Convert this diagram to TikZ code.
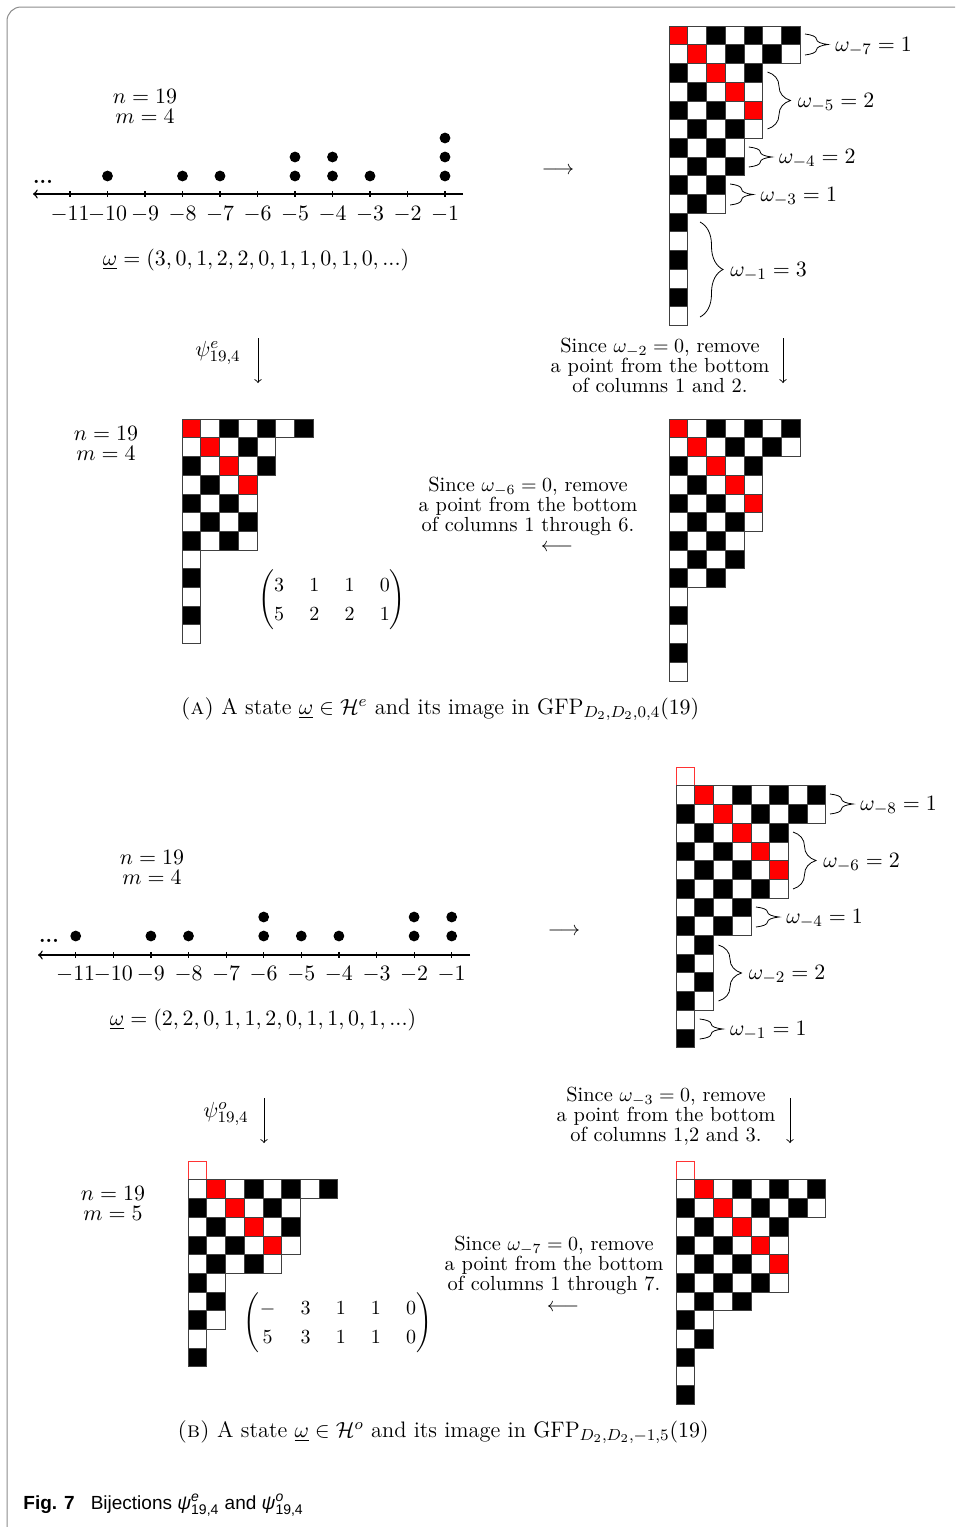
\documentclass[tikz,border=0pt]{standalone}
\usepackage{amsmath}
\usepackage{fontspec}
\newfontfamily\capfont{Liberation Sans}
\usetikzlibrary{decorations.pathreplacing,positioning}
\definecolor{framegray}{HTML}{8C8C8C}
\definecolor{tilered}{HTML}{FF0000}

\def\cellsz{18.7}
% one checker staircase: origin, first row index, row lengths, last red diagonal row
\newcommand\checkgrid[4]{%
  \begin{scope}[shift={#1}]
    \foreach \len [count=\r from #2] in {#3} {
      \foreach \c in {1,...,\len} {
        \pgfmathtruncatemacro\cc{\c-1}
        \pgfmathtruncatemacro\tk{(\r==\cc && \r<=#4) ? 2 : mod(\r+\cc,2)}
        \edef\tc{\ifcase\tk black\or white\else tilered\fi}
        \filldraw[cellc, fill=\tc] (\cc*\cellsz,\r*\cellsz) rectangle ++(\cellsz,\cellsz);
      }
    }
  \end{scope}}
\newcommand\emptybox[1]{%
  \draw[tilered!80, line width=0.5pt, shift={#1}] (0,0) rectangle (\cellsz,\cellsz);}
\newcommand\cappsi[1]{\textit{ψ}$^{\mbox{\capfont\itshape\fontsize{7}{8}\selectfont #1}}_{\mbox{\capfont\fontsize{7}{8}\selectfont 19,4}}$}

\begin{document}
\begin{tikzpicture}[
  x=0.5pt, y=-0.5pt,
  txt/.style={font=\fontsize{10.2}{10}\selectfont, align=center, inner sep=0pt},
  bigtxt/.style={font=\fontsize{11.3}{10}\selectfont, align=center, inner sep=0pt},
  captxt/.style={font=\fontsize{11.2}{12}\selectfont, inner sep=0pt},
  mtx/.style={font=\fontsize{10.2}{12}\selectfont, inner sep=0pt},
  cellc/.style={draw=black!75, line width=0.3pt},
  axis/.style={->, line width=0.7pt},
  tick/.style={line width=0.6pt},
  arr/.style={->, line width=0.45pt},
  brc/.style={decorate, decoration={brace, amplitude=11.5pt}, line width=0.4pt},
  blbl/.style={font=\fontsize{10.9}{10}\selectfont, inner sep=1pt, midway, right=14pt, yshift=-1pt},
]
\useasboundingbox (0,0) rectangle (955,1527);
\draw[framegray, line width=0.5pt, rounded corners=7pt] (955,7) -- (7,7) -- (7,1527);

% ---------- part (a) ----------
\node[bigtxt] (nmA) at (145,106) {$n=19$\\$m=4$};
\coordinate (axA0) at (463,194);
\coordinate (axA1) at (33,194);
\draw[axis] (axA0) -- (axA1);
\node[txt, anchor=base] (dotsA) at (43,183) {\textbf{...}};
\foreach \cnt [count=\k] in {3,0,1,2,2,0,1,1,0,1,0} {
  \pgfmathsetmacro\xx{445-(\k-1)*37.5}
  \draw[tick] (\xx,191) -- (\xx,197);
  \node[bigtxt] (ta\k) at (\xx,214) {$-\k$};
  \ifnum\cnt>0 \foreach \d in {1,...,\cnt} {\fill (\xx,195-19*\d) circle[radius=2.7pt];}\fi
}
\node[bigtxt] (omA) at (256,260) {$\underline{\omega}=(3,0,1,2,2,0,1,1,0,1,0,...)$};
\node[txt] (toA) at (558,171) {$\longrightarrow$};

\checkgrid{(669,26)}{0}{7,7,5,5,5,5,4,4,3,3,1,1,1,1,1,1}{4}
\draw[brc] (805,34) -- (805,55) node[blbl] {$\omega_{-7}=1$};
\draw[brc] (767.5,72) -- (767.5,129) node[blbl] {$\omega_{-5}=2$};
\draw[brc] (748.8,147) -- (748.8,167) node[blbl] {$\omega_{-4}=2$};
\draw[brc] (730.1,184) -- (730.1,205) node[blbl] {$\omega_{-3}=1$};
\draw[brc] (700,222) -- (700,317) node[blbl] {$\omega_{-1}=3$};

\node[bigtxt] (psiE) at (218,353) {$\psi^e_{19,4}$};
\coordinate (psiE0) at (258,338);
\coordinate (psiE1) at (258,383);
\draw[arr] (psiE0) -- (psiE1);
\node[txt] (stepA) at (660,365) {Since $\omega_{-2}=0$, remove\\a point from the bottom\\of columns 1 and 2.};
\coordinate (stepA0) at (783,338);
\coordinate (stepA1) at (783,383);
\draw[arr] (stepA0) -- (stepA1);

\node[bigtxt] (nmB) at (106,443) {$n=19$\\$m=4$};
\checkgrid{(182,419)}{0}{7,5,5,4,4,4,4,1,1,1,1,1}{3}
\node[mtx] (matA) at (332,600) {\arraycolsep=6.3pt\renewcommand\arraystretch{1.2}$\begin{pmatrix}3&1&1&0\\5&2&2&1\end{pmatrix}$};
\node[txt] (stepB) at (528,506) {Since $\omega_{-6}=0$, remove\\a point from the bottom\\of columns 1 through 6.};
\node[txt] (backA) at (557,548) {$\longleftarrow$};
\checkgrid{(669,419)}{0}{7,7,5,5,5,5,4,4,3,1,1,1,1,1}{4}

\node[captxt] (capA) at (440,709) {\textsc{(a)}\ A state $\underline{\omega}\in\mathcal{H}^e$ and its image in $\mathrm{GFP}_{D_2,D_2,0,4}(19)$};

% ---------- part (b) ----------
\node[bigtxt] (nmC) at (152,867) {$n=19$\\$m=4$};
\coordinate (axB0) at (470,955);
\coordinate (axB1) at (38,955);
\draw[axis] (axB0) -- (axB1);
\node[txt, anchor=base] (dotsB) at (49,942) {\textbf{...}};
\foreach \cnt [count=\k] in {2,2,0,1,1,2,0,1,1,0,1} {
  \pgfmathsetmacro\xx{451.7-(\k-1)*37.6}
  \draw[tick] (\xx,952) -- (\xx,958);
  \node[bigtxt] (tb\k) at (\xx,974) {$-\k$};
  \ifnum\cnt>0 \foreach \d in {1,...,\cnt} {\fill (\xx,955-19*\d) circle[radius=2.7pt];}\fi
}
\node[bigtxt] (omB) at (263,1020) {$\underline{\omega}=(2,2,0,1,1,2,0,1,1,0,1,...)$};
\node[txt] (toB) at (564,932) {$\longrightarrow$};

\emptybox{(676,767)}
\checkgrid{(676,767)}{1}{8,8,6,6,6,6,4,4,2,2,2,2,1,1}{5}
\draw[brc] (830,794) -- (830,814) node[blbl] {$\omega_{-8}=1$};
\draw[brc] (793,832) -- (793,889) node[blbl] {$\omega_{-6}=2$};
\draw[brc] (756,907) -- (756,927) node[blbl] {$\omega_{-4}=1$};
\draw[brc] (718.5,945) -- (718.5,1001) node[blbl] {$\omega_{-2}=2$};
\draw[brc] (699.7,1019) -- (699.7,1039) node[blbl] {$\omega_{-1}=1$};

\node[bigtxt] (psiO) at (226,1114) {$\psi^o_{19,4}$};
\coordinate (psiO0) at (264,1098);
\coordinate (psiO1) at (264,1143);
\draw[arr] (psiO0) -- (psiO1);
\node[txt] (stepC) at (666,1116) {Since $\omega_{-3}=0$, remove\\a point from the bottom\\of columns 1,2 and 3.};
\coordinate (stepC0) at (790,1098);
\coordinate (stepC1) at (790,1143);
\draw[arr] (stepC0) -- (stepC1);

\node[bigtxt] (nmD) at (113,1203) {$n=19$\\$m=5$};
\emptybox{(188,1161)}
\checkgrid{(188,1161)}{1}{8,6,6,6,5,2,2,2,1,1}{4}
\node[mtx] (matB) at (338,1323) {\arraycolsep=6.3pt\renewcommand\arraystretch{1.2}$\begin{pmatrix}-&3&1&1&0\\5&3&1&1&0\end{pmatrix}$};
\node[txt] (stepD) at (554,1265) {Since $\omega_{-7}=0$, remove\\a point from the bottom\\of columns 1 through 7.};
\node[txt] (backB) at (563,1308) {$\longleftarrow$};
\emptybox{(676,1161)}
\checkgrid{(676,1161)}{1}{8,8,6,6,6,6,4,2,2,1,1,1}{5}

\node[captxt] (capB) at (443,1432) {\textsc{(b)}\ A state $\underline{\omega}\in\mathcal{H}^o$ and its image in $\mathrm{GFP}_{D_2,D_2,-1,5}(19)$};

% figure caption
\node[anchor=base west, inner sep=0pt, font=\capfont\fontsize{9.5}{11}\selectfont] (figcap) at (23,1509)
  {\textbf{Fig. 7}\hspace{8pt}Bijections \cappsi{e} and \cappsi{o}};
\end{tikzpicture}
\end{document}
